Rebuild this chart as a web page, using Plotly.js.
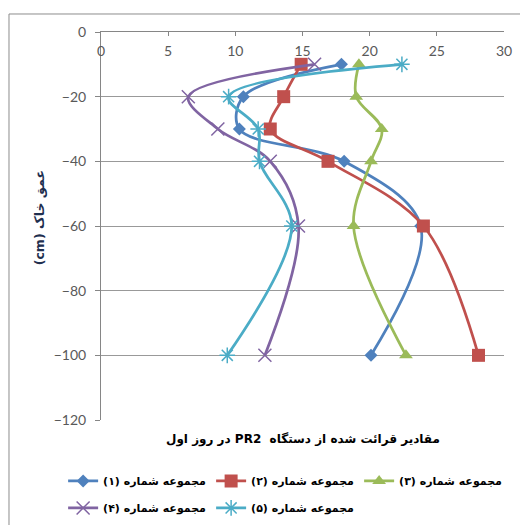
<!DOCTYPE html>
<html>
<head>
<meta charset="utf-8">
<script src="https://cdn.plot.ly/plotly-3.0.1.min.js"></script>
<style>
  html, body { margin: 0; padding: 0; background: #fff; }
  #chart { width: 520px; height: 525px; }
</style>
</head>
<body>
<div id="chart"></div>
<script>
// Depths (cm)
const depths = [-10, -20, -30, -40, -60, -100];
// Readings (PR2, first day)
const set1 = [17.9, 10.6, 10.3, 18.1, 23.8, 20.1];
const set2 = [14.9, 13.6, 12.6, 16.9, 24.0, 28.1];
const set3 = [19.2, 19.0, 20.9, 20.1, 18.8, 22.7];
const set4 = [15.9, 6.5, 8.7, 12.6, 14.7, 12.2];
const set5 = [22.4, 9.5, 11.7, 11.8, 14.2, 9.4];
// Labels
const seriesNames = ['مجموعه شماره (۱)', 'مجموعه شماره (۲)', 'مجموعه شماره (۳)', 'مجموعه شماره (۴)', 'مجموعه شماره (۵)'];
const xTitle = 'مقادیر قرائت شده از دستگاه  <b>PR2</b> در روز اول';
const yTitle = 'عمق خاک (cm)';

const RLE = '\u202B', PDF = '\u202C';
const rtl = s => RLE + s + PDF;

const colors = ['#4F81BD', '#C0504D', '#9BBB59', '#8064A2', '#4BACC6'];
const markers = [
  {symbol: 'diamond', size: 10, color: colors[0]},
  {symbol: 'square', size: 13, color: colors[1]},
  {symbol: 'triangle-up', size: 12, color: colors[2]},
  {symbol: 'x-thin-open', size: 13, color: colors[3], line: {width: 1.5, color: colors[3]}},
  {symbol: 'asterisk-open', size: 13, color: colors[4], line: {width: 1.5, color: colors[4]}}
];
const seriesData = [set1, set2, set3, set4, set5];

const traces = seriesData.map((vals, i) => ({
  type: 'scatter',
  mode: 'lines+markers',
  x: vals,
  y: depths,
  xaxis: i === 4 ? 'x2' : 'x',
  name: rtl(seriesNames[i]),
  line: {color: colors[i], width: 2.75, shape: 'spline', smoothing: 1},
  marker: markers[i],
  legend: i < 3 ? 'legend' : 'legend2'
}));

const arabicFont = 'DejaVu Sans, sans-serif';
const legendCommon = {
  orientation: 'h',
  xanchor: 'left',
  yanchor: 'middle',
  x: -0.094,
  entrywidth: 103,
  entrywidthmode: 'pixels',
  bgcolor: 'rgba(0,0,0,0)',
  font: {family: arabicFont, size: 11, color: '#000', weight: 'bold'},
  itemwidth: 30
};

const tickFont = {family: 'Lato, sans-serif', size: 14, color: '#595959'};

const layout = {
  width: 520,
  height: 525,
  margin: {l: 101, r: 16, t: 32, b: 105, autoexpand: false},
  paper_bgcolor: '#fff',
  plot_bgcolor: '#fff',
  showlegend: true,
  xaxis: {
    range: [0, 30],
    dtick: 5,
    side: 'top',
    ticks: 'inside',
    ticklen: 4,
    tickcolor: '#868686',
    showticklabels: false,
    showline: true,
    linecolor: '#868686',
    linewidth: 1,
    showgrid: false,
    zeroline: false
  },
  xaxis2: {
    range: [0, 30],
    dtick: 5,
    overlaying: 'x',
    anchor: 'free',
    position: 0.978,
    side: 'bottom',
    ticks: '',
    showline: false,
    showgrid: false,
    zeroline: false,
    tickfont: tickFont
  },
  yaxis: {
    range: [-120, 0],
    dtick: 20,
    ticks: 'outside',
    ticklen: 5,
    tickcolor: '#868686',
    ticklabelstandoff: 6,
    showline: true,
    linecolor: '#868686',
    linewidth: 1,
    showgrid: true,
    gridcolor: '#999999',
    gridwidth: 1,
    zeroline: false,
    tickfont: tickFont
  },
  legend: Object.assign({}, legendCommon, {y: -0.1571}),
  legend2: Object.assign({}, legendCommon, {y: -0.2266}),
  annotations: [
    {
      text: rtl(xTitle),
      xref: 'paper', yref: 'paper',
      x: 0.5, y: -0.049,
      xanchor: 'center', yanchor: 'middle',
      showarrow: false,
      font: {family: arabicFont, size: 12, color: '#000', weight: 'bold'}
    },
    {
      text: rtl(yTitle),
      xref: 'paper', yref: 'paper',
      x: -0.1538, y: 0.52,
      xanchor: 'center', yanchor: 'middle',
      textangle: -90,
      showarrow: false,
      font: {family: arabicFont, size: 12.5, color: '#1F2F4F', weight: 'bold'}
    }
  ],
  shapes: [
    {
      type: 'rect',
      xref: 'paper', yref: 'paper',
      x0: -0.2283, x1: 1.08, y0: -0.35, y1: 1.0464,
      line: {color: '#8c8c8c', width: 1},
      fillcolor: 'rgba(0,0,0,0)',
      layer: 'below'
    }
  ]
};

Plotly.newPlot('chart', traces, layout, {displayModeBar: false, staticPlot: true});
</script>
</body>
</html>
